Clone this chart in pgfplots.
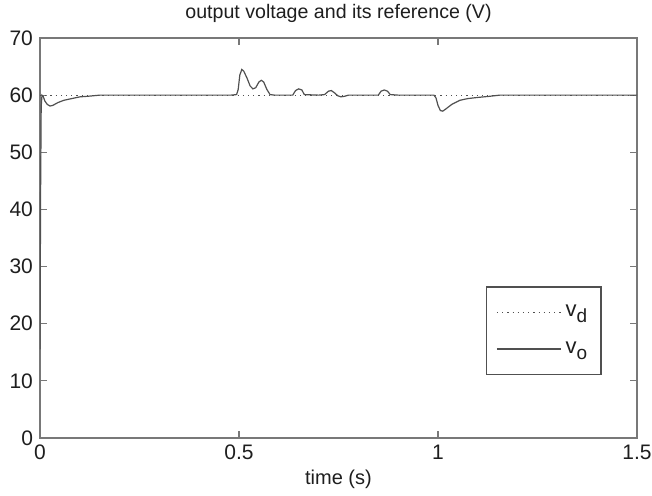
\documentclass[border=0pt]{standalone}
\usepackage{fontspec}
\setmainfont{Liberation Sans}
\usepackage{pgfplots}
\pgfplotsset{compat=1.18}

\definecolor{framegray}{RGB}{120,120,120}
\definecolor{curvegray}{RGB}{80,80,80}
\definecolor{textgray}{RGB}{30,30,30}

\newcommand{\sub}[1]{\raisebox{-0.5ex}{\fontsize{9.5}{10}\selectfont #1}}

\begin{document}
\begin{tikzpicture}
\useasboundingbox (-20pt,-29pt) rectangle (306pt,219pt);
\begin{axis}[
    at={(0,0)}, anchor=south west,
    scale only axis,
    width=298.5pt, height=200pt,
    xmin=0, xmax=1.5, ymin=0, ymax=70,
    xtick={0,0.5,1,1.5},
    xticklabels={0,0.5,1,1.5},
    ytick={0,10,...,70},
    tick align=inside,
    major tick length=3.5pt,
    axis line style={framegray, line width=0.8pt},
    tick style={framegray, line width=0.6pt},
    /pgf/number format/assume math mode=true,
    ticklabel style={font=\fontsize{10.5}{12}\selectfont, text=textgray},
    title={output voltage and its reference (V)},
    title style={font=\fontsize{9.8}{12}\selectfont, text=textgray, yshift=-2pt},
    xlabel={time (s)},
    xlabel style={font=\fontsize{10}{12}\selectfont, text=textgray, yshift=2pt},
    legend style={at={(0.941,0.1575)}, anchor=south east,
        draw=curvegray, line width=0.7pt, font=\fontsize{11}{12}\selectfont,
        text=textgray, row sep=7pt, inner xsep=5pt, inner ysep=7pt,
        /tikz/every even column/.append style={column sep=3pt}},
    legend cell align=left,
    legend image code/.code={\draw[#1] (0pt,0pt) -- (32pt,0pt);},
]
\addplot[curvegray, line width=0.6pt, dotted] coordinates {
    (0,60) (1.5,60)
};
\addplot[curvegray, line width=0.6pt] coordinates {
    (0,15.5) (0.0015,43) (0.003,58) (0.005,60) (0.008,59.8) (0.012,59)
    (0.018,58.4) (0.025,58.1) (0.032,58.2) (0.045,58.7) (0.06,59.1)
    (0.08,59.4) (0.1,59.7) (0.12,59.8) (0.15,60) (0.3,60) (0.48,60)
    (0.494,60.1) (0.498,61) (0.502,63.5) (0.507,64.5) (0.512,64.2)
    (0.52,63) (0.528,61.6) (0.535,61.1) (0.542,61.3) (0.55,62.3)
    (0.556,62.6) (0.562,62.3) (0.57,61) (0.578,60.1) (0.59,60) (0.635,60)
    (0.642,60.8) (0.65,61.1) (0.658,60.9) (0.664,60.1) (0.7,60)
    (0.715,60.1) (0.725,60.7) (0.732,60.8) (0.74,60.4) (0.748,59.9)
    (0.756,59.7) (0.765,59.8) (0.775,60) (0.85,60) (0.857,60.7)
    (0.865,60.9) (0.873,60.7) (0.88,60.1) (0.9,60) (0.99,60) (0.995,59.5)
    (1.0,58.2) (1.006,57.3) (1.012,57.2) (1.02,57.6) (1.035,58.4)
    (1.055,59.1) (1.075,59.4) (1.1,59.6) (1.13,59.8) (1.155,60) (1.5,60)
};
\legend{v\sub{d}, v\sub{o}}
\end{axis}
\end{tikzpicture}
\end{document}
